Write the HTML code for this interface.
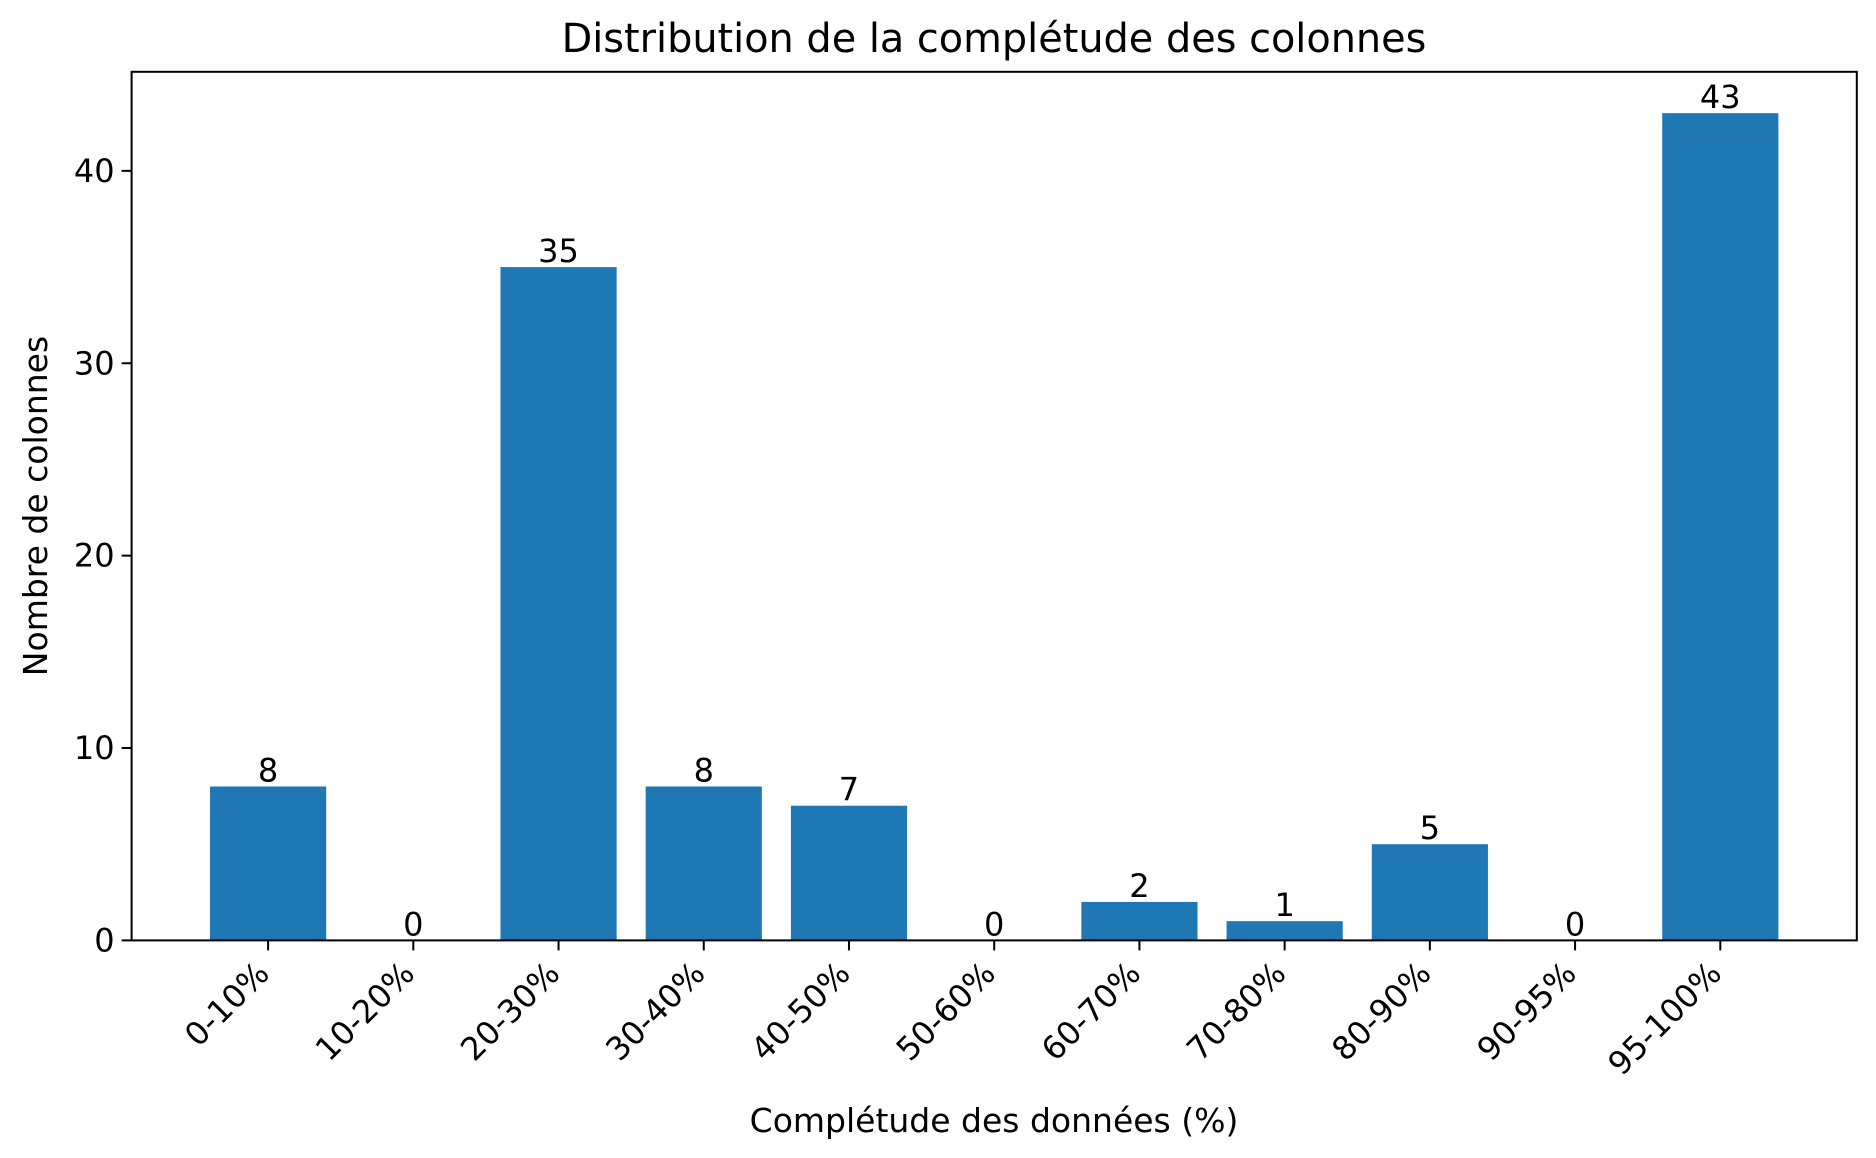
<!DOCTYPE html>
<html><head><meta charset="utf-8"><style>body{margin:0;background:#fff}svg{display:block}text{font-family:"DejaVu Sans","Liberation Sans",sans-serif;fill:#000}</style></head>
<body>
<svg id="chart" width="1876" height="1158" viewBox="0 0 1876 1158" xmlns="http://www.w3.org/2000/svg">
<text x="994" y="52" font-size="39.8" text-anchor="middle">Distribution de la complétude des colonnes</text>
<text x="994" y="1132" font-size="33" text-anchor="middle">Complétude des données (%)</text>
<text transform="translate(47,506) rotate(-90)" font-size="33" text-anchor="middle">Nombre de colonnes</text>
<g id="bars"></g><g id="axes"></g>
</svg>
<script>
const categories = ["0-10%","10-20%","20-30%","30-40%","40-50%","50-60%","60-70%","70-80%","80-90%","90-95%","95-100%"];
const counts = [8,0,35,8,7,0,2,1,5,0,43];
const yTicks = [0,10,20,30,40];
const L=131.6,R=1856.8,T=71.8,B=940.4;
const xmin=-0.94,xmax=categories.length-1+0.94;
const ymax=Math.max(...counts)*1.05;
const xs=i=>L+(i-xmin)/(xmax-xmin)*(R-L);
const ys=v=>B-v/ymax*(B-T);
const bw=0.8*(R-L)/(xmax-xmin);
const NS="http://www.w3.org/2000/svg";
const bars=document.getElementById('bars'),axes=document.getElementById('axes');
function mk(tag,attrs,parent){const e=document.createElementNS(NS,tag);for(const k in attrs)e.setAttribute(k,attrs[k]);parent.appendChild(e);return e;}
counts.forEach((v,i)=>{
  const r=mk('rect',{x:xs(i)-bw/2,y:ys(v),width:bw,height:B-ys(v),fill:'#1f77b4'},bars);
  
  
  const t=mk('text',{x:xs(i),y:ys(v)-5,'font-size':32,'text-anchor':'middle'},bars);
  t.textContent=v;
  
  
  const tk=mk('line',{x1:xs(i),x2:xs(i),y1:B,y2:B+10,stroke:'#000','stroke-width':2},axes);
  
  
  const lx=xs(i)-14,ly=B+18;
  const tl=mk('text',{x:lx,y:ly,'font-size':32,'text-anchor':'end','dominant-baseline':'hanging',transform:`rotate(-45 ${lx} ${ly})`},axes);
  tl.textContent=categories[i];
  
  
});
yTicks.forEach(v=>{
  const tk=mk('line',{x1:L-10,x2:L,y1:ys(v),y2:ys(v),stroke:'#000','stroke-width':2},axes);
  
  
  const t=mk('text',{x:L-17,y:ys(v)+11,'font-size':32,'text-anchor':'end'},axes);
  t.textContent=v;
  
  
});
const fr=mk('rect',{x:L,y:T,width:R-L,height:B-T,fill:'none',stroke:'#000','stroke-width':2},axes);


</script>
</body></html>
